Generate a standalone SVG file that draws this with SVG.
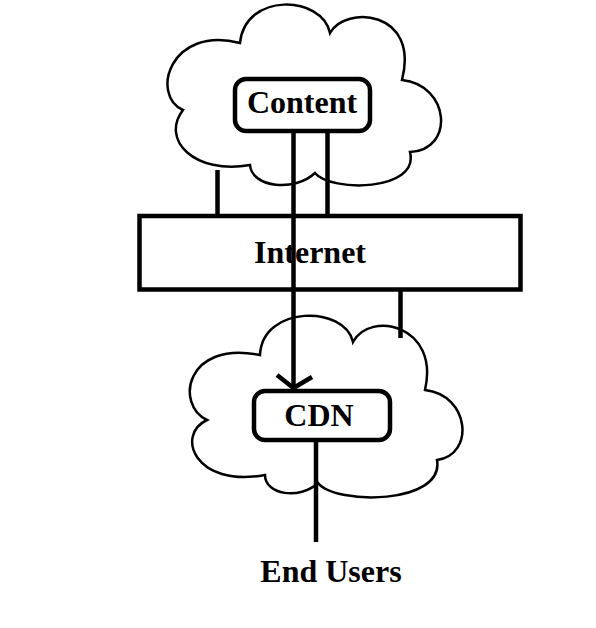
<svg xmlns="http://www.w3.org/2000/svg" width="596" height="628" viewBox="0 0 596 628">
<style>
.cloud{fill:#fff;stroke:#000;stroke-width:2.5}
.box{fill:#fff;stroke:#000;stroke-width:4.5}
.ln{fill:none;stroke:#000;stroke-width:4.5}
text{font-family:"Liberation Serif","Times New Roman",serif;font-weight:bold;font-size:32px;fill:#000;text-anchor:middle}
</style>
<rect width="596" height="628" fill="#fff"/>
<g id="content-cloud">
<path class="cloud" d="M240,43 C245,-8 322,-5 330,33 C345,5 420,10 402,80 C450,85 455,150 410,152 C420,192 330,192 315,173 C295,192 252,188 250,165 C195,175 160,140 183,110 C150,95 170,25 240,43 Z"/>
</g>
<g id="cdn-cloud">
<path class="cloud" d="M260,355 C262,305 345,305 353,342 C370,310 440,325 425,390 C470,395 475,455 437,460 C445,505 335,505 318,483 C300,500 265,495 265,475 C195,488 175,435 207,420 C175,405 185,340 260,355 Z"/>
</g>
<g id="connectors">
<line class="ln" x1="217.5" y1="170" x2="217.5" y2="216"/>
<line class="ln" x1="327.5" y1="131" x2="327.5" y2="216"/>
<line class="ln" x1="400.5" y1="289" x2="400.5" y2="338"/>
<line class="ln" x1="293.5" y1="131" x2="293.5" y2="388"/>
<polyline class="ln" points="277,375 293.5,388 312,377"/>
<line class="ln" x1="316" y1="440" x2="316" y2="542"/>
</g>
<g id="content">
<rect class="box" x="235" y="79" width="135" height="52" rx="11"/>
<text x="302" y="113">Content</text>
</g>
<g id="internet">
<rect class="box" x="139.5" y="216" width="381" height="73.5" fill="none" style="fill:none"/>
<text x="310" y="263">Internet</text>
</g>
<g id="cdn">
<rect class="box" x="254" y="391" width="136" height="49" rx="11"/>
<text x="319" y="426">CDN</text>
</g>
<g id="end-users">
<text x="331" y="582">End Users</text>
</g>
</svg>
